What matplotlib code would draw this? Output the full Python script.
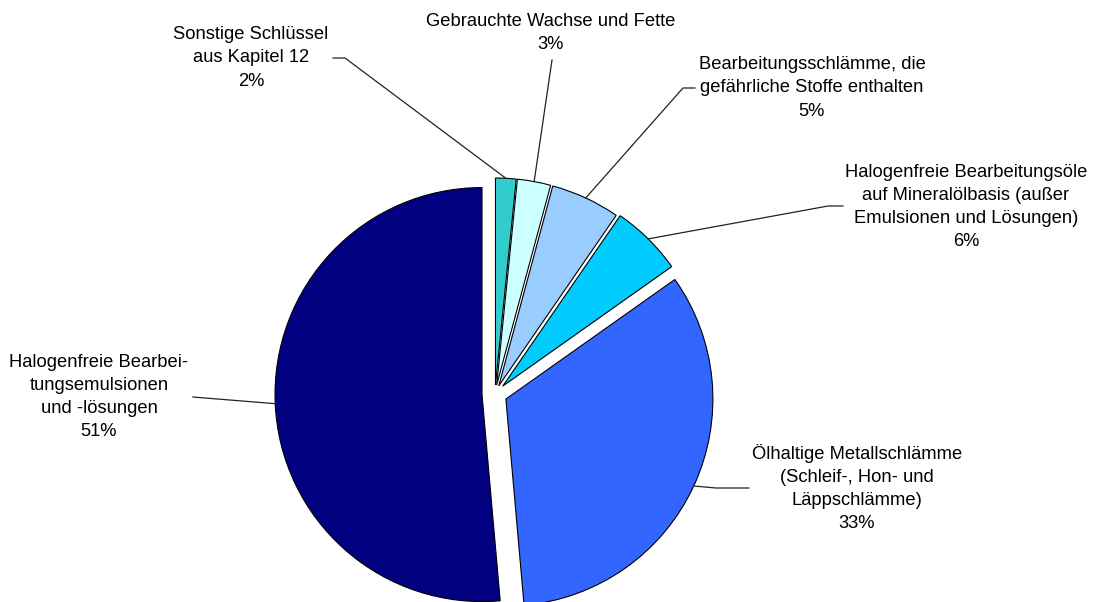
import matplotlib.pyplot as plt
import numpy as np

labels = [
    "Sonstige Schlüssel\naus Kapitel 12",
    "Gebrauchte Wachse und Fette",
    "Bearbeitungsschlämme, die\ngefährliche Stoffe enthalten",
    "Halogenfreie Bearbeitungsöle\nauf Mineralölbasis (außer\nEmulsionen und Lösungen)",
    "Ölhaltige Metallschlämme\n(Schleif-, Hon- und\nLäppschlämme)",
    "Halogenfreie Bearbei-\ntungsemulsionen\nund -lösungen",
]
# shares in percent (labels show them rounded)
shares = [1.6, 2.6, 5.4, 5.6, 33.4, 51.4]
colors = ["#33CCCC", "#CCFFFF", "#99CCFF", "#00CCFF", "#3366FF", "#000080"]
# offsets in pixels (pie explode is in data units here)
explode = [9, 9, 9, 11, 12, 13]

W, H = 1094, 602

# label layout in pixel coords (y from top)
label_xy = [(251, 58), (551, 33), (812, 88), (966, 207), (857, 488), (99, 397)]
leader_end = [(333, 58), (552, 60), (695, 88), (843, 206), (749, 488), (193, 397)]
leader_elbow = [(345, 58), None, (683, 88), (828, 206), (716, 488), (205, 398)]


def py(y):
    return H - y


fig = plt.figure(figsize=(W / 100, H / 100), dpi=100)
ax = fig.add_axes([0, 0, 1, 1])
wedges, _ = ax.pie(shares, colors=colors, explode=explode, startangle=90,
                   counterclock=False, center=(495, py(394)), radius=207,
                   wedgeprops=dict(edgecolor="black", linewidth=0.8))
ax.set_xlim(0, W)
ax.set_ylim(0, H)
ax.set_aspect("equal")
ax.axis("off")

for w, lab, v, (tx, ty), end, elb in zip(wedges, labels, shares, label_xy,
                                         leader_end, leader_elbow):
    mid = np.radians((w.theta1 + w.theta2) / 2)
    rx = w.center[0] + w.r * np.cos(mid)
    ry = w.center[1] + w.r * np.sin(mid)
    xs, ys = [rx], [ry]
    if elb is not None:
        xs.append(elb[0]); ys.append(py(elb[1]))
    xs.append(end[0]); ys.append(py(end[1]))
    ax.plot(xs, ys, color="#222222", lw=0.9)
    ax.text(tx, py(ty), f"{lab}\n{v:.0f}%", ha="center", va="center",
            fontsize=13.2, family="Liberation Sans", linespacing=1.47)

fig.savefig("out.png", dpi=100)
